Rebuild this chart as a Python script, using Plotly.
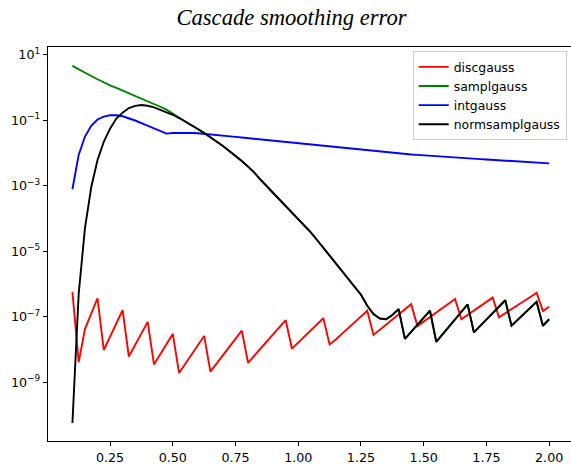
import plotly.graph_objects as go

# x samples (sigma)
x = [0.1, 0.125, 0.15, 0.175, 0.2, 0.225, 0.25, 0.275, 0.3, 0.325,
     0.35, 0.375, 0.4, 0.425, 0.45, 0.475, 0.5, 0.525, 0.55, 0.575,
     0.6, 0.625, 0.65, 0.675, 0.7, 0.725, 0.75, 0.775, 0.8, 0.825,
     0.85, 0.875, 0.9, 0.925, 0.95, 0.975, 1.0, 1.025, 1.05, 1.075,
     1.1, 1.125, 1.15, 1.175, 1.2, 1.225, 1.25, 1.275, 1.3, 1.325,
     1.35, 1.375, 1.4, 1.425, 1.45, 1.475, 1.5, 1.525, 1.55, 1.575,
     1.6, 1.625, 1.65, 1.675, 1.7, 1.725, 1.75, 1.775, 1.8, 1.825,
     1.85, 1.875, 1.9, 1.925, 1.95, 1.975, 2.0]

# series values, read as log10(error)
discgauss_log10 = [-6.24, -8.39, -7.38, -6.91, -6.44, -8.02, -7.61, -7.20, -6.80, -8.22,
                   -7.87, -7.51, -7.16, -8.46, -8.15, -7.84, -7.53, -8.72, -8.44, -8.15,
                   -7.87, -7.59, -8.68, -8.43, -8.18, -7.93, -7.68, -7.43, -8.41, -8.19,
                   -7.98, -7.76, -7.54, -7.33, -7.11, -7.98, -7.79, -7.61, -7.42, -7.24,
                   -7.05, -7.85, -7.70, -7.52, -7.35, -7.17, -7.00, -6.82, -7.56, -7.40,
                   -7.25, -7.09, -6.93, -6.78, -6.62, -7.29, -7.15, -7.01, -6.88, -6.74,
                   -6.60, -6.46, -7.08, -6.95, -6.82, -6.68, -6.55, -6.42, -7.02, -6.90,
                   -6.77, -6.65, -6.52, -6.40, -6.27, -6.83, -6.70]

normsamplgauss_log10 = [-10.25, -6.30, -4.30, -3.05, -2.22, -1.66, -1.26, -0.95, -0.77, -0.63,
                        -0.565, -0.536, -0.56, -0.61, -0.685, -0.755, -0.835, -0.935, -1.04, -1.15,
                        -1.27, -1.39, -1.52, -1.65, -1.79, -1.94, -2.09, -2.25, -2.42, -2.60,
                        -2.82, -3.02, -3.21, -3.40, -3.60, -3.80, -4.00, -4.21, -4.43, -4.66,
                        -4.90, -5.13, -5.37, -5.61, -5.85, -6.08, -6.33, -6.67, -6.92, -7.06,
                        -7.08, -6.95, -6.77, -7.68, -7.46, -7.25, -7.03, -6.82, -7.77, -7.54,
                        -7.31, -7.09, -6.86, -6.63, -7.48, -7.28, -7.09, -6.89, -6.70, -6.50,
                        -7.28, -7.10, -6.92, -6.73, -6.55, -7.28, -7.08]

# samplgauss: own values up to 0.525, then coincides with normsamplgauss
samplgauss_head_log10 = [0.66, 0.55, 0.45, 0.35, 0.25, 0.15, 0.065, -0.01, -0.09, -0.17,
                         -0.255, -0.34, -0.42, -0.50, -0.59, -0.68, -0.79, -0.92]
samplgauss_log10 = samplgauss_head_log10 + normsamplgauss_log10[len(samplgauss_head_log10):]

intgauss_log10 = [-3.11, -2.06, -1.50, -1.17, -0.98, -0.89, -0.85, -0.85, -0.88, -0.94,
                  -1.01, -1.09, -1.17, -1.25, -1.33, -1.41, -1.39, -1.385, -1.385, -1.39,
                  -1.40, -1.415, -1.43, -1.45, -1.47, -1.49, -1.51, -1.53, -1.55, -1.57,
                  -1.59, -1.61, -1.63, -1.65, -1.67, -1.69, -1.71, -1.73, -1.75, -1.77,
                  -1.79, -1.81, -1.83, -1.85, -1.87, -1.89, -1.91, -1.93, -1.95, -1.97,
                  -1.99, -2.01, -2.02, -2.035, -2.05, -2.06, -2.075, -2.09, -2.10, -2.11,
                  -2.125, -2.14, -2.15, -2.16, -2.175, -2.19, -2.20, -2.21, -2.225, -2.24,
                  -2.25, -2.26, -2.275, -2.29, -2.30, -2.31, -2.32]

series_names = ["discgauss", "samplgauss", "intgauss", "normsamplgauss"]
series_colors = ["#ff0000", "#008000", "#0000ff", "#000000"]
series_log10 = [discgauss_log10, samplgauss_log10, intgauss_log10, normsamplgauss_log10]

y_tickvals = [1e1, 1e-1, 1e-3, 1e-5, 1e-7, 1e-9]
y_ticktext = ["10<sup>1</sup>", "10<sup>\u22121</sup>", "10<sup>\u22123</sup>",
              "10<sup>\u22125</sup>", "10<sup>\u22127</sup>", "10<sup>\u22129</sup>"]

fig = go.Figure()
for name, color, vals in zip(series_names, series_colors, series_log10):
    fig.add_trace(go.Scatter(
        x=x, y=[10 ** v for v in vals], mode="lines", name=name,
        line=dict(color=color, width=1.9),
    ))

font_family = "DejaVu Sans"
fig.update_layout(
    width=571, height=464,
    margin=dict(l=48, r=0, t=47, b=23, pad=0),
    paper_bgcolor="white", plot_bgcolor="white",
    title=dict(
        text="Cascade smoothing error",
        font=dict(family="Liberation Serif", size=22.6, color="#000000", style="italic"),
        x=291.5 / 571, xref="container", xanchor="center",
        y=1 - 17.5 / 464, yref="container", yanchor="middle",
    ),
    font=dict(family=font_family, size=12.7, color="#000000"),
    showlegend=True,
    legend=dict(
        x=0.9918, y=0.9891, xanchor="right", yanchor="top",
        bgcolor="rgba(255,255,255,0.8)", bordercolor="#cccccc", borderwidth=1,
        font=dict(family=font_family, size=12.4, color="#000000"),
    ),
)
fig.update_xaxes(
    range=[0.0027, 2.087],
    tickmode="linear", tick0=0, dtick=0.25, tickformat=".2f",
    ticks="outside", ticklen=4.4, tickwidth=0.8, tickcolor="#000000",
    showline=True, linecolor="#000000", linewidth=0.8, mirror=True,
    showgrid=False, zeroline=False, automargin=False,
    tickfont=dict(family=font_family, size=12.7, color="#000000"),
)
fig.update_yaxes(
    type="log", range=[-10.80, 1.235],
    tickmode="array", tickvals=y_tickvals, ticktext=y_ticktext,
    ticks="outside", ticklen=4.4, tickwidth=0.8, tickcolor="#000000",
    showline=True, linecolor="#000000", linewidth=0.8, mirror=False,
    showgrid=False, zeroline=False, automargin=False,
    tickfont=dict(family=font_family, size=12.7, color="#000000"),
)

fig.write_html("out.html", config={"displayModeBar": False},
               post_script="document.body.style.margin='0';")
